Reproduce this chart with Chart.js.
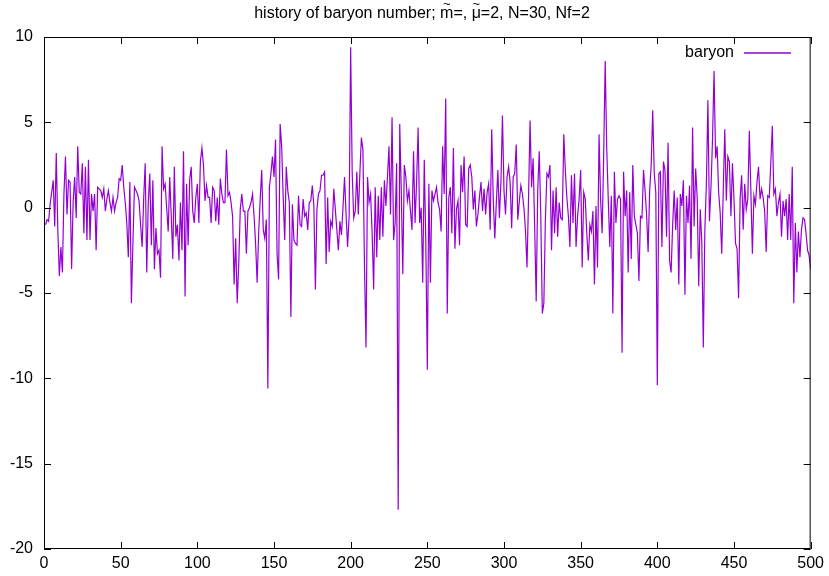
<!DOCTYPE html>
<html>
<head>
<meta charset="utf-8">
<title>baryon history</title>
<script src="https://cdn.jsdelivr.net/npm/chart.js@4.4.1/dist/chart.umd.min.js"></script>
<style>
  html, body { margin: 0; padding: 0; background: #fff; }
</style>
</head>
<body>
<canvas id="baryonChart" width="829" height="576"></canvas>
<script>
// plot text; the title is split so the tildes can sit over m and mu
const titleParts = ["history of baryon number; ", "m", "=, ", "\u03bc", "=2, N=30, Nf=2"];
const tildeParts = [1, 3];
const seriesLabel = "baryon";

// axis ticks
const xTicks = [0, 50, 100, 150, 200, 250, 300, 350, 400, 450, 500];
const yTicks = [10, 5, 0, -5, -10, -15, -20];

// baryon number per sweep, sweeps 1..500
const baryon = [
  -1.0, -0.7, -0.8, 0.2, 0.9, 1.6, -1.1, 3.2, -1.3, -4.0,
  -2.3, -3.8, 0.8, 3.0, -0.4, 1.6, 1.5, -3.6, 0.3, 1.8,
  -0.6, 3.6, 0.9, 0.8, 2.6, -1.5, 2.4, -1.9, 2.8, -1.9,
  0.8, -0.2, 0.8, -2.5, 1.2, 1.1, 1.0, 0.6, 1.1, -0.2,
  0.5, 1.0, 0.3, -0.2, 0.6, -0.2, 0.3, 0.6, 1.7, 1.6,
  2.5, 1.2, 0.3, -0.9, -2.9, 1.5, -5.6, -2.0, 1.2, 1.0,
  0.8, 0.4, -1.0, -2.3, 0.5, 2.6, -3.8, 0.3, 2.0, -2.2,
  1.6, -3.6, -1.2, -2.7, -2.5, -4.1, 3.6, 1.1, 1.4, 0.0,
  -1.4, 1.8, -0.5, -3.0, 2.4, -1.7, -1.0, -3.1, 0.3, -2.5,
  3.3, -5.2, 1.4, -2.2, 1.6, 2.4, -0.2, -0.9, 0.6, 1.4,
  -0.9, 2.7, 3.5, 2.5, 0.4, 1.3, 0.6, 0.6, -0.9, 1.2,
  1.0, -0.8, 0.6, -1.0, 1.7, 0.8, 0.3, 0.3, 3.4, 0.7,
  0.9, 0.3, -0.5, -4.5, -1.8, -5.6, -3.3, -0.1, 0.8, -0.2,
  -0.2, -2.7, -0.2, 0.0, 0.3, 0.8, -0.5, -2.1, -4.4, -1.5,
  0.5, 2.2, -1.3, -1.8, -0.7, -10.6, 1.2, 2.0, 3.0, 1.8,
  4.0, -2.7, -4.2, 4.9, 3.6, 0.6, -1.9, 2.4, 1.0, 0.3,
  -6.4, 0.2, -1.9, -2.1, -2.2, 0.7, -1.0, -1.1, 0.5, -0.5,
  -0.3, -1.3, 0.3, 0.4, 1.3, 0.1, -4.8, -0.1, 0.8, 1.0,
  1.9, 1.9, 2.1, -3.3, 0.6, -2.6, -0.8, -1.1, 1.1, -0.1,
  -1.3, -2.5, -0.8, -1.6, 0.0, 1.8, -0.4, -2.3, -0.5, 9.4,
  2.0, -0.6, -0.2, 2.1, -0.4, 2.0, 4.1, 3.4, -3.3, -8.2,
  1.8, 0.3, 0.8, -1.5, -4.8, 1.2, -2.9, 0.7, -1.9, 1.2,
  -1.7, 1.6, 0.1, 1.8, 3.6, -0.4, 5.3, -1.9, -0.9, 2.6,
  -17.7, 4.9, 1.0, -3.9, 2.5, 1.8, 0.4, 1.0, -0.2, -1.3,
  3.3, -0.9, 1.5, 4.7, -0.9, 0.0, -4.4, 2.8, -2.0, -9.5,
  1.4, -4.4, 1.0, 0.4, 0.8, 1.2, 0.3, -0.1, -1.4, 3.6,
  0.8, 6.4, -6.2, 0.6, 1.2, -1.5, 3.5, -2.4, -0.1, 0.4,
  -2.2, 2.5, 0.9, 3.0, -1.0, -1.1, 2.3, 2.5, 1.8, -0.1,
  1.0, -1.1, -0.4, 0.6, 1.5, -0.2, 1.1, -0.4, 0.9, 1.4,
  -1.3, 4.6, 0.5, -1.8, 0.3, 2.2, -0.6, 1.5, 5.4, 1.0,
  -0.4, 1.8, 2.4, 1.5, -1.2, 1.8, 2.0, 3.7, -0.7, 0.4,
  1.3, 0.8, 0.0, -1.3, -3.5, 0.5, 5.1, 1.2, 2.9, -1.1,
  -5.5, 1.0, 3.3, -0.5, -6.2, -5.6, -0.7, 2.0, 1.8, 2.5,
  -2.5, 1.0, -1.5, 1.2, -1.7, 0.3, -0.6, -0.7, 4.3, 2.2,
  0.6, -0.5, -2.3, 1.9, -0.9, 2.0, -2.3, -0.5, 0.5, 2.2,
  -3.5, 0.9, 0.5, -1.5, -3.1, -1.0, -1.4, -0.2, -4.5, 0.1,
  -3.5, 4.3, 0.5, -1.5, 3.0, 8.6, 3.5, 0.5, -2.3, 0.7,
  -6.2, 2.1, -0.9, 0.5, 0.7, 0.5, -8.5, 2.1, -0.5, 1.0,
  -3.8, 0.9, -3.0, 2.5, -0.5, -1.0, -1.5, -4.3, -0.5, -0.6,
  2.2, 1.0, -0.4, -2.6, 1.0, 2.5, 5.7, 2.0, 0.9, -10.4,
  2.0, 2.1, -2.3, 2.7, 2.2, -1.7, 3.8, -3.1, -3.8, -1.0,
  1.0, -1.3, 0.6, -4.5, 0.8, 0.1, 1.6, -5.1, 0.7, -0.9,
  1.3, -3.0, 4.7, -1.1, 2.3, 0.6, -4.6, -0.1, -2.0, -8.2,
  -1.3, 1.4, 6.3, -0.8, 1.2, 4.0, 8.0, 2.9, 3.6, 0.9,
  -0.3, -2.7, 1.0, 4.6, 0.4, 3.0, 2.7, -0.5, 2.6, 0.5,
  -2.1, -2.4, -5.3, 0.5, 1.9, -1.3, 1.4, -0.1, 0.5, 4.5,
  1.0, -2.7, 0.7, 0.2, 1.5, 2.4, 0.5, 1.1, 0.6, -0.2,
  -2.6, 0.7, 0.6, 2.6, 4.8, 0.8, 1.1, -0.5, 0.3, 0.8,
  -1.7, 0.4, -0.5, 0.5, -1.9, 0.8, -1.9, 2.4, -5.6, -0.9,
  -3.8, -1.4, -2.9, -1.3, -0.6, -0.7, -1.5, -2.5, -2.8, -3.6
];

const lineColor = "#9400d3";
const fontFamily = "'Liberation Sans', Arial, Helvetica, sans-serif";

// gnuplot-like frame: box border, inward ticks on all four sides, title and key
const framePlugin = {
  id: "frame",
  afterDraw(chart) {
    const ctx = chart.ctx;
    const a = chart.chartArea;
    const xs = chart.scales.x, ys = chart.scales.y;
    const tick = 7;
    ctx.save();
    ctx.strokeStyle = "#000";
    ctx.lineWidth = 1;
    ctx.strokeRect(a.left + 0.5, a.top + 0.5, a.right - a.left - 1, a.bottom - a.top - 1);

    ctx.beginPath();
    xTicks.forEach(v => {
      const px = Math.round(xs.getPixelForValue(v)) + 0.5;
      ctx.moveTo(px, a.bottom); ctx.lineTo(px, a.bottom - tick);
      ctx.moveTo(px, a.top); ctx.lineTo(px, a.top + tick);
    });
    yTicks.forEach(v => {
      const py = Math.round(ys.getPixelForValue(v)) + 0.5;
      ctx.moveTo(a.left, py); ctx.lineTo(a.left + tick, py);
      ctx.moveTo(a.right, py); ctx.lineTo(a.right - tick, py);
    });
    ctx.stroke();

    // title, piece by piece, with a small tilde above m and mu
    ctx.fillStyle = "#000";
    ctx.font = "16px " + fontFamily;
    ctx.textBaseline = "middle";
    ctx.textAlign = "left";
    const widths = titleParts.map(p => ctx.measureText(p).width);
    let tx = 422 - widths.reduce((s, w) => s + w, 0) / 2;
    titleParts.forEach((p, i) => {
      ctx.font = "16px " + fontFamily;
      ctx.textAlign = "left";
      ctx.fillText(p, tx, 14);
      if (tildeParts.includes(i)) {
        ctx.font = "13px " + fontFamily;
        ctx.textAlign = "center";
        ctx.fillText("~", tx + widths[i] / 2, 4);
      }
      tx += widths[i];
    });

    // key, top right
    ctx.font = "16px " + fontFamily;
    ctx.textAlign = "right";
    ctx.fillText(seriesLabel, 734, 53);
    ctx.strokeStyle = lineColor;
    ctx.lineWidth = 1.5;
    ctx.beginPath();
    ctx.moveTo(744, 53); ctx.lineTo(791, 53);
    ctx.stroke();
    ctx.restore();
  }
};

new Chart("baryonChart", {
  type: "line",
  data: {
    datasets: [{
      label: seriesLabel,
      data: baryon.map((v, i) => ({ x: i + 1, y: v })),
      borderColor: lineColor,
      borderWidth: 1.2,
      pointRadius: 0,
      tension: 0,
      fill: false
    }]
  },
  options: {
    responsive: false,
    animation: false,
    parsing: false,
    layout: { padding: { top: 37, right: 18, left: 0, bottom: 0 } },
    plugins: {
      legend: { display: false },
      title: { display: false },
      tooltip: { enabled: false }
    },
    scales: {
      x: {
        type: "linear",
        min: 0,
        max: 500,
        grid: { display: false, drawTicks: false },
        border: { display: false },
        afterBuildTicks: s => { s.ticks = xTicks.map(v => ({ value: v })); },
        afterFit: s => { s.height = 27; },
        ticks: {
          color: "#000",
          padding: 5,
          maxRotation: 0,
          font: { family: fontFamily, size: 16 }
        }
      },
      y: {
        type: "linear",
        min: -20,
        max: 10,
        grid: { display: false, drawTicks: false },
        border: { display: false },
        afterBuildTicks: s => { s.ticks = yTicks.map(v => ({ value: v })); },
        afterFit: s => { s.width = 44; },
        ticks: {
          color: "#000",
          padding: 11,
          font: { family: fontFamily, size: 16 }
        }
      }
    }
  },
  plugins: [framePlugin]
});
</script>
</body>
</html>
